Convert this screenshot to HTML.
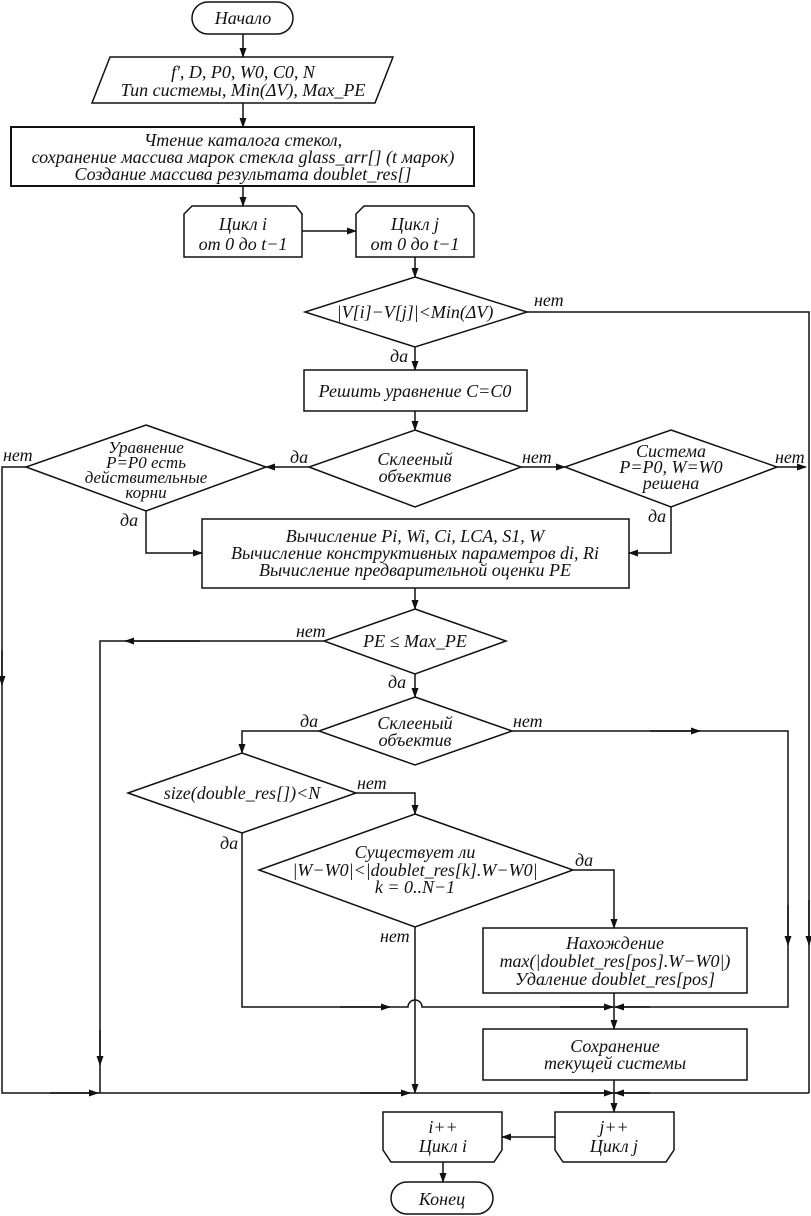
<!DOCTYPE html>
<html><head><meta charset="utf-8"><style>
html,body{margin:0;padding:0;background:#fff}
svg{display:block}
text{font-family:"Liberation Serif","DejaVu Serif",serif;font-style:italic;font-size:18px;fill:#111}
.s{font-size:17px}
</style></head><body>
<svg width="811" height="1216" viewBox="0 0 811 1216" xmlns="http://www.w3.org/2000/svg">
<defs><marker id="a" markerWidth="10" markerHeight="8" refX="9" refY="4" orient="auto" markerUnits="userSpaceOnUse"><path d="M0,0.5 L10,4 L0,7.5 Z" fill="#111"/></marker></defs>
<g fill="none" stroke="#111" stroke-width="1.5">
<rect x="192" y="2" width="101" height="32" rx="16"/>
<path d="M110,57 L393,57 L375,103 L92,103 Z"/>
<rect x="11" y="127" width="463" height="59" stroke-width="2"/>
<path d="M192,206 L296,206 L302,214 L302,257 L184,257 L184,214 Z"/>
<path d="M364,206 L468,206 L474,214 L474,257 L356,257 L356,214 Z"/>
<path d="M415,277 L527,312 L415,347 L305,312 Z"/>
<rect x="304" y="370" width="223" height="41"/>
<path d="M415,430 L521,467 L415,507 L309,467 Z"/>
<path d="M146,425 L266,467 L146,511 L26,467 Z"/>
<path d="M671,430 L777,467 L671,507 L565,467 Z"/>
<rect x="202" y="519" width="427" height="69"/>
<path d="M415,609 L506,641 L415,674 L324,641 Z"/>
<path d="M415,697 L512,731 L415,765 L319,731 Z"/>
<path d="M242,753 L356,793 L242,833 L128,793 Z"/>
<path d="M415,814 L573,870 L415,927 L259,870 Z"/>
<rect x="483" y="928" width="264" height="65"/>
<rect x="483" y="1029" width="264" height="51"/>
<path d="M383,1112 L502,1112 L502,1150 L494,1162 L391,1162 L383,1150 Z"/>
<path d="M555,1112 L674,1112 L674,1150 L666,1162 L563,1162 L555,1150 Z"/>
<rect x="391" y="1182" width="102" height="32" rx="16"/>
<line x1="243" y1="34" x2="243" y2="57" marker-end="url(#a)"/>
<line x1="243" y1="103" x2="243" y2="127" marker-end="url(#a)"/>
<line x1="243" y1="186" x2="243" y2="206" marker-end="url(#a)"/>
<line x1="302" y1="231" x2="356" y2="231" marker-end="url(#a)"/>
<line x1="415" y1="257" x2="415" y2="277" marker-end="url(#a)"/>
<polyline points="527,312 809,312 809,1093"/>
<line x1="809" y1="900" x2="809" y2="945" marker-end="url(#a)"/>
<line x1="415" y1="347" x2="415" y2="370" marker-end="url(#a)"/>
<line x1="415" y1="411" x2="415" y2="430" marker-end="url(#a)"/>
<line x1="309" y1="467" x2="266" y2="467" marker-end="url(#a)"/>
<line x1="521" y1="467" x2="565" y2="467" marker-end="url(#a)"/>
<line x1="777" y1="467" x2="806" y2="467" marker-end="url(#a)"/>
<polyline points="26,467 2,467 2,1093 100,1093"/>
<line x1="2" y1="650" x2="2" y2="685" marker-end="url(#a)"/>
<polyline points="146,511 146,553 202,553" marker-end="url(#a)"/>
<polyline points="671,507 671,553 629,553" marker-end="url(#a)"/>
<line x1="415" y1="588" x2="415" y2="609" marker-end="url(#a)"/>
<polyline points="324,641 100,641 100,1093"/>
<line x1="200" y1="641" x2="125" y2="641" marker-end="url(#a)"/>
<line x1="100" y1="1030" x2="100" y2="1065" marker-end="url(#a)"/>
<line x1="415" y1="674" x2="415" y2="697" marker-end="url(#a)"/>
<polyline points="319,731 242,731 242,753" marker-end="url(#a)"/>
<polyline points="512,731 788,731 788,1007 615,1007"/>
<line x1="650" y1="731" x2="700" y2="731" marker-end="url(#a)"/>
<line x1="788" y1="905" x2="788" y2="945" marker-end="url(#a)"/>
<line x1="650" y1="1007" x2="615" y2="1007" marker-end="url(#a)"/>
<polyline points="356,793 415,793 415,814" marker-end="url(#a)"/>
<polyline points="573,870 614,870 614,928" marker-end="url(#a)"/>
<path d="M242,833 L242,1007 L408,1007 A7,7 0 0 1 422,1007 L614,1007"/>
<line x1="340" y1="1007" x2="390" y2="1007" marker-end="url(#a)"/>
<line x1="560" y1="1007" x2="613" y2="1007" marker-end="url(#a)"/>
<line x1="614" y1="993" x2="614" y2="1029" marker-end="url(#a)"/>
<line x1="415" y1="927" x2="415" y2="1093" marker-end="url(#a)"/>
<line x1="100" y1="1093" x2="809" y2="1093"/>
<line x1="50" y1="1093" x2="98" y2="1093" marker-end="url(#a)"/>
<line x1="360" y1="1093" x2="410" y2="1093" marker-end="url(#a)"/>
<line x1="560" y1="1093" x2="613" y2="1093" marker-end="url(#a)"/>
<line x1="650" y1="1093" x2="615" y2="1093" marker-end="url(#a)"/>
<line x1="614" y1="1080" x2="614" y2="1112" marker-end="url(#a)"/>
<line x1="555" y1="1137" x2="502" y2="1137" marker-end="url(#a)"/>
<line x1="443" y1="1162" x2="443" y2="1182" marker-end="url(#a)"/>
</g>
<g text-anchor="middle">
<text x="243" y="24">Начало</text>
<text x="243" y="78">f', D, P0, W0, C0, N</text>
<text x="243" y="96">Тип системы, Min(ΔV), Max_PE</text>
<text x="243" y="146">Чтение каталога стекол,</text>
<text x="243" y="163">сохранение массива марок стекла glass_arr[] (t марок)</text>
<text x="243" y="180">Создание массива результата doublet_res[]</text>
<text x="243" y="230">Цикл i</text>
<text x="243" y="250">от 0 до t−1</text>
<text x="415" y="230">Цикл j</text>
<text x="415" y="250">от 0 до t−1</text>
<text x="415" y="318">|V[i]−V[j]|&lt;Min(ΔV)</text>
<text x="415" y="397">Решить уравнение C=C0</text>
<text x="415" y="465">Склееный</text>
<text x="415" y="482">объектив</text>
<text class="s" x="146" y="453">Уравнение</text>
<text class="s" x="146" y="468">P=P0 есть</text>
<text class="s" x="146" y="483">действительные</text>
<text class="s" x="146" y="498">корни</text>
<text x="671" y="457">Система</text>
<text x="671" y="473">P=P0, W=W0</text>
<text x="671" y="489">решена</text>
<text x="415" y="542">Вычисление Pi, Wi, Ci, LCA, S1, W</text>
<text x="415" y="559">Вычисление конструктивных параметров di, Ri</text>
<text x="415" y="576">Вычисление предварительной оценки PE</text>
<text x="415" y="647">PE ≤ Max_PE</text>
<text x="415" y="729">Склееный</text>
<text x="415" y="746">объектив</text>
<text x="242" y="799">size(double_res[])&lt;N</text>
<text x="415" y="858">Существует ли</text>
<text x="415" y="876">|W−W0|&lt;|doublet_res[k].W−W0|</text>
<text x="415" y="893">k = 0..N−1</text>
<text x="615" y="949">Нахождение</text>
<text x="615" y="967">max(|doublet_res[pos].W−W0|)</text>
<text x="615" y="985">Удаление doublet_res[pos]</text>
<text x="615" y="1052">Сохранение</text>
<text x="615" y="1069">текущей системы</text>
<text x="443" y="1133">i++</text>
<text x="443" y="1152">Цикл i</text>
<text x="614" y="1133">j++</text>
<text x="614" y="1152">Цикл j</text>
<text x="442" y="1205">Конец</text>
</g>
<g>
<text x="534" y="306">нет</text>
<text x="390" y="362">да</text>
<text x="290" y="463">да</text>
<text x="522" y="463">нет</text>
<text x="775" y="463">нет</text>
<text x="3" y="461">нет</text>
<text x="120" y="526">да</text>
<text x="648" y="522">да</text>
<text x="296" y="637">нет</text>
<text x="388" y="688">да</text>
<text x="300" y="727">да</text>
<text x="513" y="727">нет</text>
<text x="357" y="789">нет</text>
<text x="220" y="849">да</text>
<text x="575" y="866">да</text>
<text x="380" y="942">нет</text>
</g>
</svg>
</body></html>
